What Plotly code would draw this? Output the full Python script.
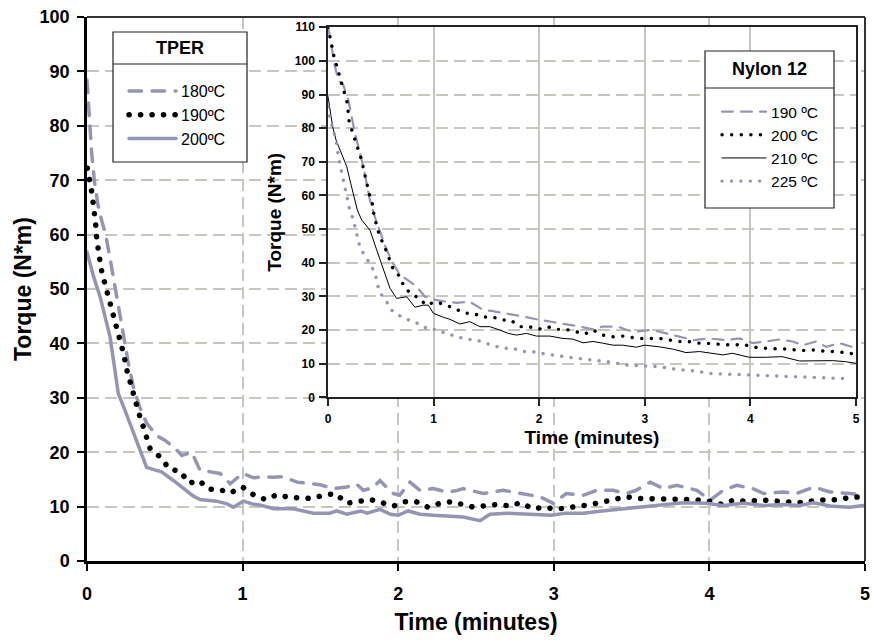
import plotly.graph_objects as go

# ---------------- Main chart (TPER) ----------------
tper_180_t = [0, 0.015, 0.03, 0.047, 0.07, 0.095, 0.12, 0.155, 0.19, 0.23, 0.265, 0.298, 0.34, 0.384, 0.45, 0.5,
              0.555, 0.61, 0.673, 0.726, 0.81, 0.855, 0.92, 0.97, 1.0, 1.07, 1.13, 1.2, 1.26, 1.35, 1.43, 1.5,
              1.583, 1.67, 1.73, 1.776, 1.84, 1.883, 1.93, 1.97, 2.01, 2.076, 2.14, 2.226, 2.31, 2.37, 2.418,
              2.547, 2.676, 2.804, 2.911, 2.997, 3.08, 3.19, 3.275, 3.38, 3.466, 3.53, 3.62, 3.704, 3.79, 3.92,
              4.004, 4.09, 4.176, 4.28, 4.35, 4.475, 4.56, 4.67, 4.775, 4.904, 4.99]
tper_180_v = [88.4, 81, 75, 70, 65.5, 62.5, 60, 54.5, 48.6, 42, 36.5, 32, 28.2, 25.3, 23, 22.2,
              21.0, 19.4, 20.0, 16.7, 16.4, 16.1, 14.2, 15.5, 16.1, 15.3, 15.5, 15.4, 15.5, 14.5, 14.2, 14.0,
              13.3, 13.6, 14.2, 13.0, 13.5, 14.8, 13.4, 12.4, 12.1, 14.5, 13.0, 13.3, 12.7, 12.9, 13.3,
              12.4, 13.0, 12.4, 11.8, 10.6, 12.4, 12.1, 13.0, 13.0, 12.4, 13.0, 14.5, 13.3, 13.9, 13.0,
              11.2, 13.0, 13.9, 13.3, 12.4, 12.7, 12.4, 13.6, 12.7, 12.4, 12.1]

tper_190_t = [0.002, 0.019, 0.030, 0.040, 0.051, 0.058, 0.062, 0.069, 0.084, 0.097, 0.118, 0.131, 0.15, 0.172,
              0.195, 0.217, 0.238, 0.251, 0.27, 0.291, 0.308, 0.334, 0.358, 0.379, 0.405, 0.475, 0.529, 0.598,
              0.657, 0.721, 0.782, 0.846, 0.919, 0.999, 1.069, 1.146, 1.223, 1.296, 1.369, 1.446, 1.523, 1.596,
              1.669, 1.744, 1.82, 1.898, 1.97, 2.044, 2.116, 2.19, 2.269, 2.34, 2.418, 2.483, 2.568, 2.64, 2.72,
              2.783, 2.869, 2.94, 3.014, 3.09, 3.17, 3.24, 3.32, 3.393, 3.468, 3.545, 3.62, 3.7, 3.776, 3.85,
              3.926, 4.0, 4.08, 4.157, 4.23, 4.31, 4.39, 4.46, 4.535, 4.61, 4.687, 4.763, 4.84, 4.915, 4.99]
tper_190_v = [72.2, 70.0, 67.9, 65.7, 63.6, 61.3, 59.3, 57.2, 55.0, 52.9, 50.7, 48.6, 46.4, 44.3,
              42.1, 40.0, 37.8, 35.6, 33.5, 31.3, 29.2, 27.1, 25.0, 22.8, 20.7, 19.0, 16.9, 16.5,
              14.3, 14.8, 13.2, 13.2, 12.5, 13.6, 12.2, 11.3, 12.2, 11.7, 11.5, 11.5, 12.1, 12.4,
              10.6, 10.9, 11.3, 10.7, 10.1, 10.9, 10.9, 9.9, 10.6, 10.9, 10.4, 9.9, 10.2, 10.4, 10.1,
              10.7, 9.6, 9.9, 9.5, 9.9, 10.1, 10.4, 10.9, 11.2, 11.8, 11.5, 11.5, 11.5, 11.3, 11.3,
              11.2, 11.0, 10.4, 11.2, 11.0, 11.0, 11.2, 10.9, 10.9, 10.7, 11.2, 11.3, 11.3, 11.8, 11.7]

tper_200_t = [0, 0.04, 0.084, 0.12, 0.148, 0.175, 0.201, 0.24, 0.276, 0.33, 0.383, 0.43, 0.479, 0.555, 0.63,
              0.68, 0.726, 0.78, 0.833, 0.9, 0.94, 1.005, 1.06, 1.112, 1.2, 1.326, 1.454, 1.56, 1.605, 1.669,
              1.76, 1.8, 1.883, 1.95, 2.0, 2.064, 2.14, 2.226, 2.333, 2.418, 2.526, 2.59, 2.7, 2.85, 2.983,
              3.08, 3.19, 3.31, 3.447, 3.57, 3.704, 3.83, 3.98, 4.09, 4.22, 4.35, 4.475, 4.58, 4.67, 4.775,
              4.9, 4.99]
tper_200_v = [56.8, 52.5, 48.6, 44.5, 41.2, 36, 30.8, 28, 25.3, 21, 17.2, 16.8, 16.4, 14.8, 13.0,
              12, 11.3, 11.2, 11.0, 10.5, 9.9, 11.0, 10.5, 10.3, 9.6, 9.6, 8.8, 8.8, 9.2, 8.6,
              9.2, 8.8, 9.5, 8.6, 8.4, 9.2, 8.6, 8.4, 8.2, 8.1, 7.4, 8.6, 8.8, 8.6, 8.4,
              8.8, 8.8, 9.2, 9.6, 9.9, 10.4, 10.7, 10.6, 10.2, 10.6, 10.2, 10.4, 10.2, 10.7, 10.1,
              9.9, 10.2]

# ---------------- Inset chart (Nylon 12) ----------------
ny_190_t = [0, 0.035, 0.066, 0.097, 0.145, 0.192, 0.255, 0.334, 0.397, 0.45, 0.508, 0.555, 0.618, 0.681,
            0.776, 0.839, 0.918, 1.028, 1.123, 1.218, 1.343, 1.469, 1.564, 1.69, 1.817, 1.974, 2.1, 2.226,
            2.353, 2.51, 2.6, 2.747, 2.83, 2.92, 3.046, 3.14, 3.3, 3.456, 3.614, 3.77, 3.9, 4.024, 4.15,
            4.276, 4.4, 4.497, 4.62, 4.718, 4.845, 4.97]
ny_190_v = [110.2, 103.2, 98.3, 94.3, 92.8, 88.4, 78.5, 68.6, 58.6, 53, 47.7, 43.8, 39.8, 36.4,
            34.4, 32.9, 29.9, 28.9, 28.4, 28.1, 28.4, 26.0, 25.6, 25.0, 24.2, 23.2, 22.5, 22.0,
            21.2, 20.2, 21.0, 21.0, 20.0, 19.5, 20.0, 19.5, 18.2, 17.0, 17.5, 17.0, 17.5, 16.1, 16.6,
            17.2, 16.6, 15.5, 16.6, 15.0, 16.1, 14.9]

ny_200_t = [0, 0.019, 0.057, 0.082, 0.107, 0.13, 0.152, 0.183, 0.2, 0.23, 0.258, 0.287, 0.319, 0.334, 0.356,
            0.372, 0.397, 0.423, 0.435, 0.483, 0.517, 0.555, 0.618, 0.681, 0.719, 0.79, 0.87, 0.924, 1.022,
            1.107, 1.195, 1.287, 1.375, 1.463, 1.55, 1.64, 1.728, 1.817, 1.905, 1.993, 2.077, 2.16, 2.25,
            2.34, 2.431, 2.51, 2.6, 2.7, 2.79, 2.87, 2.968, 3.06, 3.14, 3.236, 3.33, 3.41, 3.49, 3.58, 3.66,
            3.755, 3.83, 3.93, 4.008, 4.1, 4.18, 4.27, 4.37, 4.45, 4.54, 4.62, 4.72, 4.8, 4.89, 4.98]
ny_200_v = [110, 106.7, 101.2, 98.5, 95.8, 92.8, 90.4, 87.4, 81.9, 79.2, 76.5, 73.8, 70.5, 68.1, 65.1,
            62.4, 59.6, 57.1, 54.1, 48.5, 46.0, 43.3, 38.0, 35.9, 32.9, 30.6, 29.4, 27.4, 28.4,
            27.4, 26.5, 25.0, 25.0, 23.8, 24.0, 23.0, 23.0, 21.0, 21.0, 20.2, 21.0, 20.2, 20.2,
            19.6, 18.8, 20.0, 18.5, 18.0, 18.2, 17.8, 17.5, 17.5, 17.5, 17.0, 16.6, 16.6, 16.1, 16.1, 15.9,
            15.5, 15.5, 15.8, 15.0, 14.6, 14.6, 14.3, 14.4, 13.9, 13.9, 14.1, 13.6, 13.6, 13.3, 12.9]

ny_210_t = [0, 0.019, 0.044, 0.076, 0.13, 0.177, 0.215, 0.246, 0.277, 0.319, 0.397, 0.461, 0.524, 0.587,
            0.65, 0.745, 0.823, 0.902, 0.95, 0.997, 1.091, 1.154, 1.249, 1.343, 1.438, 1.532, 1.627, 1.706,
            1.785, 1.88, 1.974, 2.1, 2.226, 2.32, 2.415, 2.51, 2.6, 2.7, 2.79, 2.92, 3.0, 3.14, 3.27, 3.39,
            3.52, 3.64, 3.74, 3.83, 3.99, 4.15, 4.3, 4.466, 4.62, 4.78, 4.9, 5.0]
ny_210_v = [89.4, 85.4, 80.4, 76.5, 72.5, 68.6, 63.6, 59.6, 55.7, 52.7, 49.7, 43.8, 37.8, 32.4,
            29.4, 29.9, 26.8, 27.4, 27.4, 25.0, 23.8, 23.2, 21.8, 22.5, 21.0, 21.0, 20.0, 19.0,
            18.5, 19.0, 18.2, 18.2, 17.5, 17.3, 16.2, 16.6, 16.1, 15.5, 15.5, 14.9, 15.5, 15.0, 14.3, 13.3,
            13.6, 13.1, 12.6, 13.1, 11.9, 11.9, 12.1, 10.8, 10.8, 10.9, 10.6, 10.1]

ny_225_t = [0, 0.019, 0.044, 0.076, 0.098, 0.13, 0.17, 0.202, 0.24, 0.271, 0.303, 0.35, 0.397, 0.445, 0.485,
            0.549, 0.602, 0.681, 0.776, 0.864, 0.949, 1.034, 1.123, 1.218, 1.302, 1.39, 1.485, 1.57, 1.659,
            1.748, 1.842, 1.93, 2.015, 2.1, 2.19, 2.277, 2.359, 2.51, 2.67, 2.826, 2.98, 3.14, 3.3, 3.456,
            3.614, 3.77, 3.93, 4.087, 4.245, 4.4, 4.56, 4.718, 4.875, 4.95]
ny_225_v = [86.4, 83, 80.0, 76.5, 71.5, 66.6, 60.6, 56.2, 52.7, 48.8, 44.5, 42, 39.8, 36.9, 31.4,
            28.7, 25.9, 24.2, 22.8, 21.8, 20.2, 20.2, 18.8, 18.2, 17.2, 17.2, 16.1, 15.3, 14.6,
            14.6, 13.6, 13.6, 13.1, 12.6, 12.3, 11.9, 11.6, 11.2, 10.5, 9.6, 9.3, 9.1, 8.3, 7.9,
            7.1, 6.9, 6.8, 6.4, 6.3, 6.1, 5.9, 5.6, 5.6, 5.6]

tper_names = ["180ºC", "190ºC", "200ºC"]
nylon_names = ["190 ºC", "200 ºC", "210 ºC", "225 ºC"]

# tick values / labels
x_ticks = [0, 1, 2, 3, 4, 5]
x_labels = ["0", "1", "2", "3", "4", "5"]
main_y_ticks = [0, 10, 20, 30, 40, 50, 60, 70, 80, 90, 100]
main_y_labels = ["0", "10", "20", "30", "40", "50", "60", "70", "80", "90", "100"]
inset_y_ticks = [0, 10, 20, 30, 40, 50, 60, 70, 80, 90, 100, 110]
inset_y_labels = ["0", "10", "20", "30", "40", "50", "60", "70", "80", "90", "100", "110"]

LAV = "#9494b4"
FONT = "Arial, Liberation Sans, sans-serif"

fig = go.Figure()

# main traces
fig.add_trace(go.Scatter(x=tper_180_t, y=tper_180_v, mode="lines", name=tper_names[0], legend="legend",
                         line=dict(color=LAV, width=3.5, dash="12.5px,10.5px")))
fig.add_trace(go.Scatter(x=tper_190_t, y=tper_190_v, mode="lines", name=tper_names[1], legend="legend",
                         line=dict(color="black", width=5.5, dash="0.1px,11.4px")))
fig.add_trace(go.Scatter(x=tper_200_t, y=tper_200_v, mode="lines", name=tper_names[2], legend="legend",
                         line=dict(color=LAV, width=3.5)))

# inset traces
fig.add_trace(go.Scatter(x=ny_190_t, y=ny_190_v, mode="lines", name=nylon_names[0], legend="legend2",
                         xaxis="x2", yaxis="y2", line=dict(color=LAV, width=2.2, dash="10.8px,8.2px")))
fig.add_trace(go.Scatter(x=ny_200_t, y=ny_200_v, mode="lines", name=nylon_names[1], legend="legend2",
                         xaxis="x2", yaxis="y2", line=dict(color="black", width=3.4, dash="0.1px,9.5px")))
fig.add_trace(go.Scatter(x=ny_210_t, y=ny_210_v, mode="lines", name=nylon_names[2], legend="legend2",
                         xaxis="x2", yaxis="y2", line=dict(color="black", width=1)))
fig.add_trace(go.Scatter(x=ny_225_t, y=ny_225_v, mode="lines", name=nylon_names[3], legend="legend2",
                         xaxis="x2", yaxis="y2", line=dict(color=LAV, width=3.4, dash="0.1px,9.3px")))

GRID = "#c6c6be"


def b(lst):
    return ["<b>" + s + "</b>" for s in lst]


fig.update_layout(
    width=872, height=640, autosize=False,
    margin=dict(l=87, r=7, t=17, b=79, autoexpand=False),
    paper_bgcolor="white", plot_bgcolor="white",
    font=dict(family=FONT, color="black"),
    xaxis=dict(range=[0, 5], tickmode="array", tickvals=x_ticks, ticktext=b(x_labels), automargin=False,
               showgrid=True, gridcolor=GRID, gridwidth=1.5,
               griddash="12px,6px", zeroline=False, showline=True, linecolor="black", linewidth=2.5,
               ticks="outside", ticklen=7, tickwidth=2, tickcolor="black", ticklabelstandoff=8,
               tickfont=dict(family=FONT, size=18, color="black"),
               title=dict(text="<b>Time (minutes)</b>", font=dict(family=FONT, size=23, color="black"),
                          standoff=11)),
    yaxis=dict(range=[0, 100], tickmode="array", tickvals=main_y_ticks, ticktext=b(main_y_labels),
               automargin=False, showgrid=True, gridcolor=GRID, gridwidth=1.5,
               griddash="12px,6px", zeroline=False, showline=True, linecolor="black", linewidth=2.5,
               ticks="outside", ticklen=7, tickwidth=2, tickcolor="black", ticklabelstandoff=4,
               tickfont=dict(family=FONT, size=18, color="black"),
               title=dict(text="<b>Torque (N*m)</b>", font=dict(family=FONT, size=23, color="black"),
                          standoff=2)),
    xaxis2=dict(domain=[0.3098, 0.9884], anchor="y2", range=[0, 5], tickmode="array", automargin=False,
                tickvals=x_ticks, ticktext=b(x_labels),
                showgrid=True, gridcolor=GRID, gridwidth=1.5, zeroline=False,
                showline=True, linecolor="#222222", linewidth=1.5, mirror=True,
                ticks="outside", ticklen=7, tickwidth=1.5, tickcolor="#222222", ticklabelstandoff=3,
                tickfont=dict(family=FONT, size=12, color="black"),
                title=dict(text="<b>Time (minutes)</b>", font=dict(family=FONT, size=19, color="black"),
                           standoff=5)),
    yaxis2=dict(domain=[0.3009, 0.9811], anchor="x2", range=[0, 110], tickmode="array", automargin=False,
                tickvals=inset_y_ticks, ticktext=b(inset_y_labels),
                showgrid=True, gridcolor=GRID, gridwidth=1.5, griddash="12px,6px", zeroline=False,
                showline=True, linecolor="#222222", linewidth=1.5, mirror=True,
                ticks="outside", ticklen=7, tickwidth=1.5, tickcolor="#222222", ticklabelstandoff=2,
                tickfont=dict(family=FONT, size=12, color="black"),
                title=dict(text="<b>Torque (N*m)</b>", font=dict(family=FONT, size=19, color="black"),
                           standoff=8)),
    legend=dict(x=0.0476, y=0.8952, xanchor="left", yanchor="top", bgcolor="rgba(0,0,0,0)",
                borderwidth=0, font=dict(family=FONT, size=16, color="black"), itemwidth=47,
                tracegroupgap=0),
    legend2=dict(x=0.8098, y=0.8565, xanchor="left", yanchor="top", bgcolor="rgba(0,0,0,0)",
                 borderwidth=0, font=dict(family=FONT, size=15.5, color="black"), itemwidth=44,
                 tracegroupgap=0),
    showlegend=True,
)

# frame lines of main plot (top, right)
fig.add_shape(type="line", xref="paper", yref="paper", x0=0, x1=1, y0=1, y1=1,
              line=dict(color="#333333", width=2), layer="above")
fig.add_shape(type="line", xref="paper", yref="paper", x0=1, x1=1, y0=0, y1=1,
              line=dict(color="#333333", width=2), layer="above")

# legend boxes with title rows
for (x0, x1, yb, yt, ysep) in [(0.03342, 0.20566, 0.73346, 0.97243, 0.91360),
                               (0.79434, 0.96015, 0.64890, 0.93750, 0.86949)]:
    fig.add_shape(type="rect", xref="paper", yref="paper", x0=x0, x1=x1, y0=yb, y1=yt,
                  fillcolor="white", line=dict(color="#222222", width=1.2), layer="above")
    fig.add_shape(type="line", xref="paper", yref="paper", x0=x0, x1=x1, y0=ysep, y1=ysep,
                  line=dict(color="#222222", width=1.2), layer="above")

fig.add_annotation(text="<b>TPER</b>", xref="paper", yref="paper", x=0.1195, y=0.943,
                   xanchor="center", yanchor="middle",
                   showarrow=False, font=dict(family=FONT, size=18, color="black"))
fig.add_annotation(text="<b>Nylon 12</b>", xref="paper", yref="paper", x=0.8774, y=0.9035,
                   xanchor="center", yanchor="middle",
                   showarrow=False, font=dict(family=FONT, size=18, color="black"))

post = """
var gd = document.getElementById('{plot_id}');
gd.querySelectorAll('.scatterlayer .js-line, .legendlines path').forEach(function(p){
  p.style.strokeLinecap = 'round';
});
"""
fig.write_html("out.html", post_script=post)
